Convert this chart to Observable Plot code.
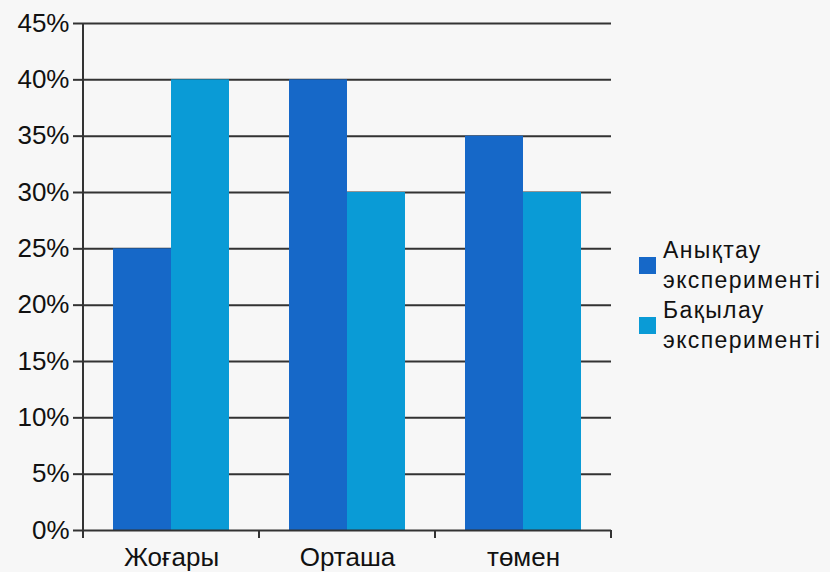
<!DOCTYPE html>
<html><head><meta charset="utf-8">
<script src="https://cdn.jsdelivr.net/npm/d3@7"></script>
<script src="https://cdn.jsdelivr.net/npm/@observablehq/plot@0.6"></script>
<style>
body{margin:0;background:#f7f7f7;font-family:"Liberation Sans",Arial,sans-serif;}
#wrap{position:relative;width:830px;height:572px;}
#legend{position:absolute;left:639px;top:235px;}
.item{display:flex;align-items:center;}
.sw{width:17px;height:17px;margin-right:7px;flex:none;}
.lbl{font-size:23px;line-height:30px;color:#111;letter-spacing:1.4px;}
</style></head><body><div id="wrap"><div id="legend"></div></div>
<script>
const categories = ["Жоғары", "Орташа", "төмен"];
const series = ["Анықтау эксперименті", "Бақылау эксперименті"];
const legendLines = [["Анықтау", "эксперименті"], ["Бақылау", "эксперименті"]];
const anyktauValues = [25, 40, 35];
const bakylauValues = [40, 30, 30];
const yTicks = [0, 5, 10, 15, 20, 25, 30, 35, 40, 45];
const colors = ["#1668c8", "#0a9bd6"];

const data = [];
categories.forEach((c, i) => {
  data.push({cat: c, series: series[0], value: anyktauValues[i]});
  data.push({cat: c, series: series[1], value: bakylauValues[i]});
});

const plot = Plot.plot({
  width: 830, height: 572,
  marginLeft: 82, marginRight: 218, marginTop: 23, marginBottom: 42,
  style: {background: "transparent", fontFamily: "'Liberation Sans', Arial, sans-serif", color: "#222", overflow: "visible"},
  fx: {domain: categories, padding: 0, label: null},
  x: {domain: series, paddingInner: 0, paddingOuter: 0.5, axis: null},
  y: {domain: [0, 45], axis: null},
  color: {domain: series, range: colors},
  marks: [
    Plot.ruleY(yTicks.filter(d => d > 0), {stroke: "#333", strokeWidth: 2}),
    Plot.barY(data, {fx: "cat", x: "series", y: "value", fill: "series"}),
    Plot.ruleY([0], {stroke: "#333", strokeWidth: 2}),
    Plot.axisY(yTicks, {anchor: "left", tickFormat: d => d + "%", tickSize: 10, tickPadding: 4, fontSize: 26, strokeWidth: 2, stroke: "#333", fill: "#111", label: null}),
    Plot.axisFx({anchor: "bottom", tickSize: 0, tickPadding: 17, fontSize: 26, fill: "#111", label: null})
  ]
});

document.getElementById("wrap").prepend(plot);

// axis line and category boundary ticks, from the plot's own scales
const fx = plot.scale("fx"), y = plot.scale("y");
const svg = d3.select(plot);
const bounds = categories.map(c => fx.apply(c)).concat([fx.apply(categories[categories.length - 1]) + fx.bandwidth]);
const g = svg.append("g").attr("stroke", "#333").attr("stroke-width", 2);
g.append("line").attr("x1", bounds[0]).attr("x2", bounds[0]).attr("y1", y.apply(45)).attr("y2", y.apply(0) + 8);
g.selectAll("line.tk").data(bounds).join("line").attr("class", "tk")
  .attr("x1", d => d).attr("x2", d => d).attr("y1", y.apply(0)).attr("y2", y.apply(0) + 8);

const legend = d3.select("#legend");
series.forEach((s, i) => {
  const item = legend.append("div").attr("class", "item");
  item.append("div").attr("class", "sw").style("background", colors[i]);
  const t = item.append("div").attr("class", "lbl");
  legendLines[i].forEach(l => t.append("div").text(l));
});
</script></body></html>
